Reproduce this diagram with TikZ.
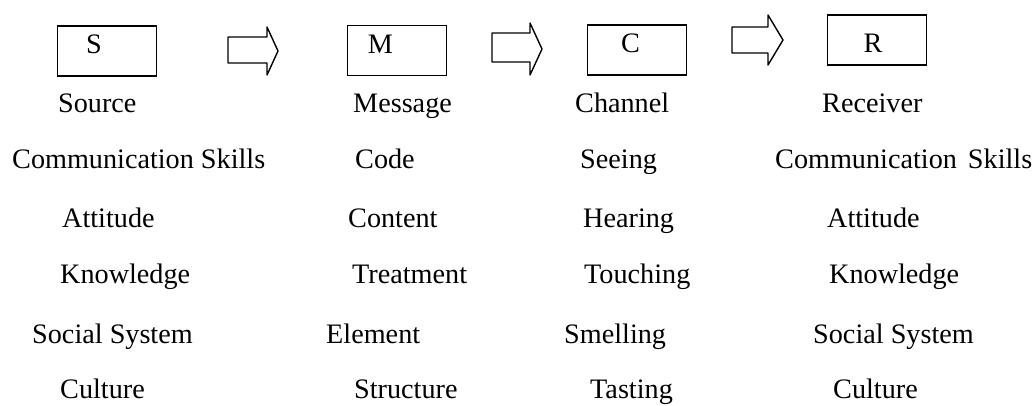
\documentclass[tikz,border=0pt]{standalone}
\usepackage{fontspec}
\setmainfont{Liberation Serif}
\usepackage{tikz}

\begin{document}
\begin{tikzpicture}[x=1pt,y=-1pt,
    box/.style={draw,line width=1.5pt,minimum width=99pt,minimum height=50pt},
    letter/.style={anchor=base},
    item/.style={anchor=base west}]
\useasboundingbox (0,0) rectangle (1036,405);
%\tikzstyle{letter}=[anchor=base,font=\bfseries]
\begin{scope}[every node/.style={inner sep=0pt,font=\fontsize{28.2}{34}\selectfont}]
    \node[box] (sbox) at (107,51) {};
    \node[box] (mbox) at (397,50.5) {};
    \node[box] (cbox) at (637,50) {};
    \node[box] (rbox) at (877,40) {};
    \node[letter] (s) at (94,53) {S};
    \node[letter] (m) at (380.5,53) {M};
    \node[letter] (c) at (630.5,52) {C};
    \node[letter] (r) at (873,52) {R};

    \draw[line width=1.4pt,line join=round] (228,37) -- (267,37) -- (267,27) -- (278,51)
        -- (267,75) -- (267,63) -- (228,63) -- cycle;
    \draw[line width=1.4pt,line join=round] (492,33) -- (530,33) -- (530,23) -- (542,49)
        -- (530,75) -- (530,62) -- (492,62) -- cycle;
    \draw[line width=1.4pt,line join=round] (732,27) -- (768,27) -- (768,15) -- (783,40)
        -- (768,65) -- (768,53) -- (732,53) -- cycle;

    \node[item] (s0) at (58,112) {Source};
    \node[item] (s1) at (12,168) {Communication Skills};
    \node[item] (s2) at (62,227) {Attitude};
    \node[item] (s3) at (60,283) {Knowledge};
    \node[item] (s4) at (32,343) {Social System};
    \node[item] (s5) at (60,398) {Culture};

    \node[item] (m0) at (353,112) {Message};
    \node[item] (m1) at (355,168) {Code};
    \node[item] (m2) at (348,227) {Content};
    \node[item] (m3) at (352,283) {Treatment};
    \node[item] (m4) at (326,343) {Element};
    \node[item] (m5) at (354,398) {Structure};

    \node[item] (c0) at (575,112) {Channel};
    \node[item] (c1) at (580,168) {Seeing};
    \node[item] (c2) at (583,227) {Hearing};
    \node[item] (c3) at (584,283) {Touching};
    \node[item] (c4) at (564,343) {Smelling};
    \node[item] (c5) at (590,398) {Tasting};

    \node[item] (r0) at (822,112) {Receiver};
    \node[item] (r1) at (775,168) {Communication\hspace{4pt} Skills};
    \node[item] (r2) at (827,227) {Attitude};
    \node[item] (r3) at (829,283) {Knowledge};
    \node[item] (r4) at (813,343) {Social System};
    \node[item] (r5) at (833,398) {Culture};
\end{scope}
\end{tikzpicture}
\end{document}
